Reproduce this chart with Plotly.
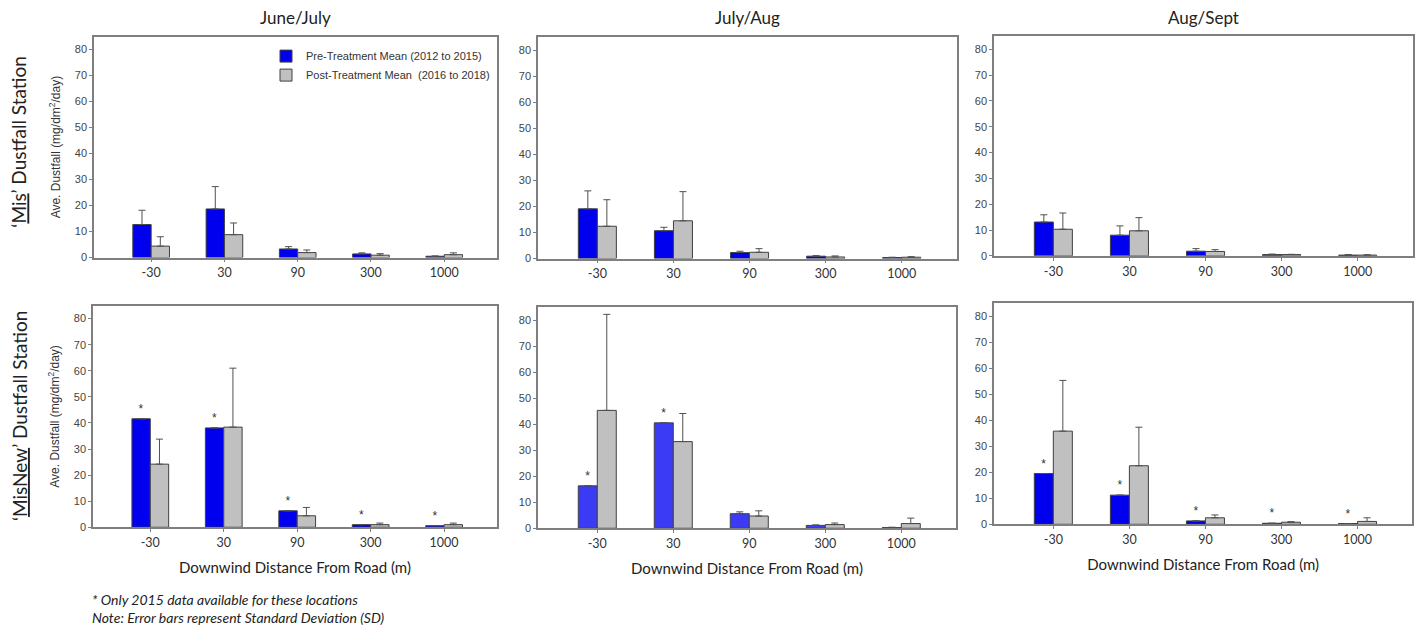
import plotly.graph_objects as go

W, H = 1422, 634

# ---------------- data ----------------
categories = ["-30", "30", "90", "300", "1000"]
col_titles = ["June/July", "July/Aug", "Aug/Sept"]
row_titles = ["\u2018<span style=\"text-decoration:underline wavy red\">Mis</span>\u2019 Dustfall Station",
              "\u2018<span style=\"text-decoration:underline wavy red\">MisNew</span>\u2019 Dustfall Station"]
pre_name = "Pre-Treatment Mean (2012 to 2015)"
post_name = "Post-Treatment Mean  (2016 to 2018)"

# 'Mis' station
mis_pre_jj = [12.7, 18.7, 3.3, 1.4, 0.5]
mis_pre_jj_sd = [5.5, 8.6, 0.9, 0.4, 0.1]
mis_post_jj = [4.4, 8.8, 1.9, 0.9, 1.1]
mis_post_jj_sd = [3.6, 4.5, 1.0, 0.6, 0.7]

mis_pre_ja = [19.1, 10.7, 2.3, 0.9, 0.4]
mis_pre_ja_sd = [6.9, 1.3, 0.5, 0.2, 0.1]
mis_post_ja = [12.4, 14.5, 2.4, 0.6, 0.5]
mis_post_ja_sd = [10.2, 11.2, 1.4, 0.4, 0.2]

mis_pre_as = [13.1, 8.0, 1.8, 0.5, 0.3]
mis_pre_as_sd = [2.8, 3.6, 1.0, 0.2, 0.2]
mis_post_as = [10.3, 9.7, 1.7, 0.5, 0.3]
mis_post_as_sd = [6.3, 5.1, 0.7, 0.1, 0.1]

# 'MisNew' station
misnew_pre_jj = [41.6, 38.1, 6.3, 1.0, 0.6]
misnew_pre_jj_sd = [None, None, None, None, None]
misnew_post_jj = [24.2, 38.4, 4.4, 1.0, 1.0]
misnew_post_jj_sd = [9.6, 22.6, 3.2, 0.6, 0.6]
misnew_flag_jj = ["*", "*", "*", "*", "*"]

misnew_pre_ja = [16.3, 40.5, 5.6, 1.1, 0.25]
misnew_pre_ja_sd = [None, None, 0.7, 0.2, 0.15]
misnew_post_ja = [45.3, 33.3, 4.7, 1.4, 1.8]
misnew_post_ja_sd = [36.9, 10.8, 2.0, 0.6, 2.1]
misnew_flag_ja = ["*", "*", None, None, None]

misnew_pre_as = [19.5, 11.2, 1.3, 0.4, 0.3]
misnew_pre_as_sd = [None, None, None, None, None]
misnew_post_as = [35.8, 22.5, 2.5, 0.8, 1.1]
misnew_post_as_sd = [19.5, 14.8, 1.1, 0.2, 1.4]
misnew_flag_as = ["*", "*", "*", "*", "*"]

y_ticks = [0, 10, 20, 30, 40, 50, 60, 70, 80]

# ---------------- styling ----------------
BLUE = "#0000EE"
BLUE_LIGHT = "#3B3BF6"
GRAY = "#C0C0C0"
EDGE = "#404040"
FRAME = "#7F7F7F"
YTICKFONT = dict(family="Liberation Sans, Arial", size=11, color="#444444")
TITLEFONT = "Lato, Carlito, Calibri, sans-serif"
XTICKFONT = dict(family=TITLEFONT, size=12.5, color="#333333")

# pixel boxes of panels: (left, right, top, bottom)
boxes = [
    [(94, 497, 37, 260), (538, 956.5, 37.7, 261), (994, 1412.5, 36.7, 258.3)],
    [(93, 497, 308.5, 532.3), (538, 956, 310, 533.3), (994, 1412.3, 306, 529.3)],
]

panels = [
    [
        (mis_pre_jj, mis_pre_jj_sd, mis_post_jj, mis_post_jj_sd, None, BLUE),
        (mis_pre_ja, mis_pre_ja_sd, mis_post_ja, mis_post_ja_sd, None, BLUE),
        (mis_pre_as, mis_pre_as_sd, mis_post_as, mis_post_as_sd, None, BLUE),
    ],
    [
        (misnew_pre_jj, misnew_pre_jj_sd, misnew_post_jj, misnew_post_jj_sd, misnew_flag_jj, BLUE),
        (misnew_pre_ja, misnew_pre_ja_sd, misnew_post_ja, misnew_post_ja_sd, misnew_flag_ja, BLUE_LIGHT),
        (misnew_pre_as, misnew_pre_as_sd, misnew_post_as, misnew_post_as_sd, misnew_flag_as, BLUE),
    ],
]

fig = go.Figure()
layout = {}

def err(sd):
    return dict(type="data", symmetric=False, array=sd, arrayminus=[0] * len(sd),
                color="#505050", thickness=1, width=3.5, visible=True)

idx = 0
for r in range(2):
    for c in range(3):
        idx += 1
        sfx = "" if idx == 1 else str(idx)
        xa, ya = "x" + sfx, "y" + sfx
        pre, pre_sd, post, post_sd, flags, bcol = panels[r][c]
        first = (idx == 1)
        fig.add_trace(go.Bar(
            x=categories, y=pre, name=pre_name, xaxis=xa, yaxis=ya,
            marker=dict(color=bcol, line=dict(color=EDGE, width=1)),
            error_y=err(pre_sd), showlegend=first, legendgroup="pre",
            text=flags if flags else None, textposition="outside",
            textfont=dict(family="Liberation Sans, Arial", size=12, color="#333333"),
            cliponaxis=False, offsetgroup="pre",
        ))
        fig.add_trace(go.Bar(
            x=categories, y=post, name=post_name, xaxis=xa, yaxis=ya,
            marker=dict(color=GRAY, line=dict(color=EDGE, width=1)),
            error_y=err(post_sd), showlegend=first, legendgroup="post",
            offsetgroup="post",
        ))
        L, R, T, B = boxes[r][c]
        xkey = "xaxis" + sfx
        ykey = "yaxis" + sfx
        layout[xkey] = dict(
            domain=[L / W, R / W], anchor=ya, type="category",
            range=[-0.78, 4.72], showline=True, mirror=True, linecolor=FRAME,
            linewidth=1.5, ticks="outside", ticklen=3, tickcolor=FRAME,
            tickfont=XTICKFONT, showgrid=False, zeroline=False, fixedrange=True,
        )
        if r == 1:
            layout[xkey]["title"] = dict(
                text="Downwind Distance From Road (m)",
                font=dict(family=TITLEFONT, size=15, color="#222222"), standoff=13)
        layout[ykey] = dict(
            domain=[1 - B / H, 1 - T / H], anchor=xa, range=[0, 85],
            tickvals=y_ticks, showline=True, mirror=True, linecolor=FRAME,
            linewidth=1.5, ticks="outside", ticklen=3, tickcolor=FRAME,
            tickfont=YTICKFONT, showgrid=False, zeroline=False, fixedrange=True,
        )
        if c == 0:
            layout[ykey]["title"] = dict(
                text="Ave. Dustfall (mg/dm<sup>2</sup>/day)",
                font=dict(family="Liberation Sans, Arial", size=12, color="#333333"),
                standoff=12)

annotations = []
for c, t in enumerate(col_titles):
    L, R, _, _ = boxes[0][c]
    annotations.append(dict(
        text=t, x=(L + R) / 2 / W, y=1 - 18 / H, xref="paper", yref="paper",
        showarrow=False, font=dict(family=TITLEFONT, size=17, color="#222222"),
        xanchor="center", yanchor="middle"))
for r, t in enumerate(row_titles):
    yc = [143, 420][r]
    annotations.append(dict(
        text=t, x=19 / W, y=1 - yc / H, xref="paper", yref="paper",
        showarrow=False, textangle=-90,
        font=dict(family=TITLEFONT, size=19, color="#222222"),
        xanchor="center", yanchor="middle"))
notes = ["<i>* Only 2015 data available for these locations</i>",
         "<i>Note: Error bars represent Standard Deviation (SD)</i>"]
for i, t in enumerate(notes):
    annotations.append(dict(
        text=t, x=90 / W, y=1 - (605 + 18 * i) / H, xref="paper", yref="paper",
        showarrow=False, xanchor="left", yanchor="middle",
        font=dict(family=TITLEFONT, size=14, color="#222222")))

fig.update_layout(
    width=W, height=H, margin=dict(l=0, r=0, t=0, b=0),
    paper_bgcolor="white", plot_bgcolor="white",
    barmode="group", bargap=0.5, bargroupgap=0,
    legend=dict(x=266 / W, y=1 - 42 / H, xanchor="left", yanchor="top",
                bgcolor="rgba(0,0,0,0)", font=dict(family="Liberation Sans, Arial", size=11, color="#333333"),
                tracegroupgap=0, itemclick=False, itemdoubleclick=False),
    annotations=annotations,
    **layout,
)

fig.write_html("out.html", config={"displayModeBar": False},
               post_script="document.body.style.margin='0';")
